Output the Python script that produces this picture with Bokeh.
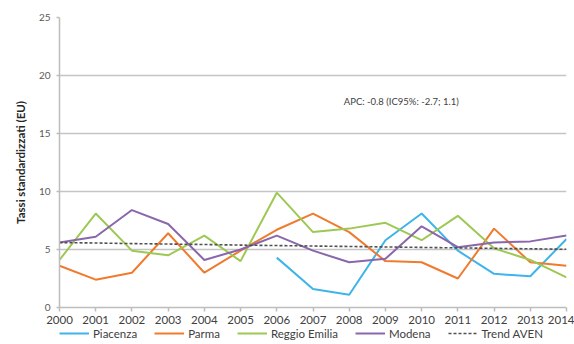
from bokeh.plotting import figure
from bokeh.models import Legend, LegendItem, FixedTicker, Label, Range1d
from bokeh.layouts import column
from bokeh.embed import file_html
from bokeh.resources import INLINE

nan = float("nan")
years = [2000, 2001, 2002, 2003, 2004, 2005, 2006, 2007, 2008, 2009, 2010, 2011, 2012, 2013, 2014]
piacenza = [nan, nan, nan, nan, nan, nan, 4.3, 1.6, 1.1, 5.8, 8.1, 4.9, 2.9, 2.7, 5.9]
parma = [3.6, 2.4, 3.0, 6.4, 3.0, 4.9, 6.7, 8.1, 6.5, 4.0, 3.9, 2.5, 6.8, 3.9, 3.6]
reggio = [4.1, 8.1, 4.9, 4.5, 6.2, 4.0, 9.9, 6.5, 6.8, 7.3, 5.8, 7.9, 5.1, 4.1, 2.6]
modena = [5.6, 6.1, 8.4, 7.2, 4.1, 5.0, 6.2, 4.9, 3.9, 4.2, 7.0, 5.2, 5.6, 5.7, 6.2]
trend = [5.60, 5.56, 5.51, 5.47, 5.43, 5.38, 5.34, 5.30, 5.26, 5.22, 5.18, 5.14, 5.10, 5.06, 5.02]
series_names = ["Piacenza", "Parma", "Reggio Emilia", "Modena", "Trend AVEN"]
series_colors = ["#3EB5E8", "#F07A2E", "#9DC853", "#8A66AA", "#505050"]
y_ticks = [0, 5, 10, 15, 20, 25]
apc_text = "APC: -0.8 (IC95%: -2.7; 1.1)"

FONT = "Lato"

p = figure(width=574, height=326, output_backend="svg", toolbar_location=None,
           x_range=(2000, 2014), y_range=(0, 25),
           min_border_left=59, min_border_right=8, min_border_top=17, min_border_bottom=0)
p.outline_line_color = None
p.background_fill_color = "white"
p.border_fill_color = "white"
p.xgrid.grid_line_color = None
p.ygrid.grid_line_color = "#C4C4C4"
p.ygrid.grid_line_width = 1.5
p.ygrid.ticker = FixedTicker(ticks=y_ticks)

p.yaxis.ticker = FixedTicker(ticks=y_ticks)
p.xaxis.ticker = FixedTicker(ticks=years)
for ax in (p.xaxis[0], p.yaxis[0]):
    ax.axis_line_color = "#BDBDBD"
    ax.axis_line_width = 1.5
    ax.major_tick_line_color = "#BDBDBD"
    ax.major_tick_line_width = 1.5
    ax.minor_tick_line_color = None
    ax.major_tick_in = 0
    ax.major_label_text_font = FONT
p.yaxis.major_tick_out = 3
p.xaxis.major_tick_out = 4
p.yaxis.major_label_standoff = 6
p.xaxis.major_label_standoff = 4
p.xaxis.axis_label_standoff = 0
p.yaxis.major_label_text_font_size = "10px"
p.yaxis.major_label_text_color = "#595959"
p.xaxis.major_label_text_font_size = "11.5px"
p.xaxis.major_label_text_color = "#404040"
p.yaxis.axis_label = "Tassi standardizzati (EU)"
p.yaxis.axis_label_text_font = FONT
p.yaxis.axis_label_text_font_style = "bold"
p.yaxis.axis_label_text_font_size = "11.5px"
p.yaxis.axis_label_text_color = "#262626"
p.yaxis.axis_label_standoff = 9

all_series = [piacenza, parma, reggio, modena, trend]
for i, vals in enumerate(all_series):
    if i == 4:
        p.line(years, vals, line_color=series_colors[i], line_width=1.6, line_dash="3 2")
    else:
        p.line(years, vals, line_color=series_colors[i], line_width=2)

p.add_layout(Label(x=2007.85, y=17.8, text=apc_text, text_font=FONT, text_font_size="9.5px",
                   text_color="#404040", text_baseline="middle", text_align="left"))

# legend strip below the chart (series drawn out of view, only the legend shows)
lg = figure(width=574, height=18, output_backend="svg", toolbar_location=None,
            x_range=Range1d(0, 1), y_range=Range1d(0, 1),
            x_axis_location=None, y_axis_location=None,
            min_border_left=59, min_border_right=0, min_border_top=0, min_border_bottom=0)
lg.outline_line_color = None
lg.xgrid.grid_line_color = None
lg.ygrid.grid_line_color = None
items = []
for i, name in enumerate(series_names):
    if i == 4:
        r = lg.line(years, all_series[i], line_color=series_colors[i], line_width=1.6, line_dash="3 2")
    else:
        r = lg.line(years, all_series[i], line_color=series_colors[i], line_width=2)
    items.append(LegendItem(label=name, renderers=[r]))
legend = Legend(items=items, orientation="horizontal", location="top_left")
legend.background_fill_alpha = 0
legend.border_line_color = None
legend.padding = 0
legend.margin = 0
legend.spacing = 17
legend.glyph_width = 30
legend.glyph_height = 14
legend.label_height = 14
legend.label_standoff = 4
legend.label_text_font = FONT
legend.label_text_font_size = "11.5px"
legend.label_text_color = "#404040"
lg.add_layout(legend)

layout = column(p, lg, spacing=0)
open("out.html", "w").write(file_html(layout, INLINE))
